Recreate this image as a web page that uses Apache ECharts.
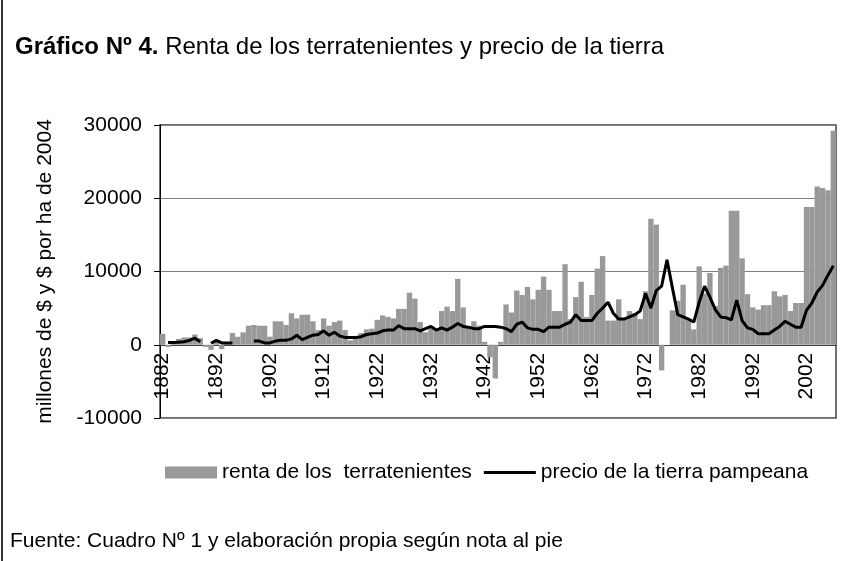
<!DOCTYPE html>
<html>
<head>
<meta charset="utf-8">
<script src="https://cdn.jsdelivr.net/npm/echarts@6/dist/echarts.min.js"></script>
<style>
    html, body { margin: 0; padding: 0; background: #fff; }
    #chart { width: 845px; height: 561px; }
</style>
</head>
<body>
<div id="chart"></div>
<script>
// años 1882 - 2007
var years = [];
for (var y = 1882; y <= 2007; y++) {
    years.push(String(y));
}

// renta de los terratenientes (barras)
var renta = [
    1500, -300, 300, 800, 1000, 1000, 1400, 900, -300, -700,          // 1882-1891
    400, -600, 300, 1600, 1100, 1700, 2600, 2700, 2600, 2600,         // 1892-1901
    1100, 3200, 3200, 2700, 4300, 3600, 4100, 4100, 3200, 2000,       // 1902-1911
    3600, 2600, 3100, 3300, 2000, 600, 1000, 1600, 2100, 2200,        // 1912-1921
    3400, 4000, 3800, 3600, 4900, 4900, 7100, 6300, 3100, 1700,       // 1922-1931
    2500, 2200, 4600, 5200, 4600, 9000, 5100, 2300, 3200, 2600,       // 1932-1941
    400, -1700, -4600, 400, 5500, 4400, 7400, 6800, 7900, 6200,       // 1942-1951
    7500, 9300, 7500, 4600, 4600, 11000, 3500, 6500, 8600, 3800,      // 1952-1961
    6800, 10400, 12100, 3300, 3300, 6200, 3500, 4600, 4300, 3500,     // 1962-1971
    7300, 17200, 16400, -3500, 0, 4700, 6000, 8200, 3500, 2100,       // 1972-1981
    10700, 7000, 9800, 5300, 10500, 10800, 18300, 18300, 11800, 6900, // 1982-1991
    5100, 4800, 5400, 5400, 7300, 6600, 6800, 4600, 5700, 5700,       // 1992-2001
    18800, 18800, 21600, 21400, 21100, 29200                          // 2002-2007
];

// precio de la tierra pampeana (línea)
var precio = [
    null, 300, 300, 350, 400, 600, 900, 400, null, 200,               // 1882-1891
    600, 250, 250, 250, null, null, null, 500, 500, 250,              // 1892-1901
    250, 500, 600, 600, 800, 1300, 700, 1000, 1300, 1400,             // 1902-1911
    1900, 1300, 1700, 1200, 1000, 1000, 1000, 1100, 1400, 1500,       // 1912-1921
    1600, 1900, 2000, 2000, 2600, 2200, 2200, 2200, 1900, 2200,       // 1922-1931
    2500, 2000, 2300, 2000, 2400, 2900, 2500, 2400, 2200, 2200,       // 1932-1941
    2500, 2500, 2500, 2400, 2200, 1800, 2800, 3100, 2300, 2100,       // 1942-1951
    2100, 1800, 2400, 2400, 2400, 2800, 3100, 4100, 3300, 3300,       // 1952-1961
    3300, 4300, 5000, 5800, 4300, 3500, 3500, 3800, 4100, 4600,       // 1962-1971
    7000, 5000, 7400, 8000, 11600, 7800, 4100, 3800, 3500, 3100,      // 1972-1981
    5800, 8000, 6500, 4800, 3800, 3700, 3400, 6100, 3300, 2300,       // 1982-1991
    2100, 1500, 1500, 1500, 2000, 2500, 3200, 2800, 2400, 2400,       // 1992-2001
    4700, 5700, 7200, 8100, 9500, 10800                               // 2002-2007
];

var yTicks = [-10000, 0, 10000, 20000, 30000];

var FONT = "'Liberation Sans', Arial, sans-serif";

// área del gráfico
var gridTop = 125, gridHeight = 293;
var yMin = yTicks[0], yMax = yTicks[yTicks.length - 1];
// el eje de categorías va sobre el cero
var zeroOffset = -gridHeight * (0 - yMin) / (yMax - yMin);

var chart = echarts.init(document.getElementById('chart'));

var opt = {
    backgroundColor: '#fff',
    animation: false,
    textStyle: { fontFamily: FONT },
    title: {
        left: 10,
        top: 30,
        text: '{b|Gráfico Nº 4.} Renta de los terratenientes y precio de la tierra',
        textStyle: {
            fontFamily: FONT,
            fontSize: 24,
            fontWeight: 'normal',
            color: '#000',
            rich: {
                b: { fontFamily: FONT, fontSize: 24, fontWeight: 'bold', color: '#000' }
            }
        }
    },
    legend: {
        left: 160,
        top: 457,
        itemWidth: 52,
        itemHeight: 12,
        itemGap: 12,
        textStyle: { fontFamily: FONT, fontSize: 21, color: '#000' },
        data: [
            { name: 'renta de los  terratenientes', icon: 'rect' },
            { name: 'precio de la tierra pampeana', icon: 'path://M0 0H100V6H0Z' }
        ]
    },
    grid: {
        left: 160,
        top: gridTop,
        width: 676,
        height: gridHeight,
        show: true,
        borderColor: '#404040',
        borderWidth: 1.5
    },
    xAxis: {
        type: 'category',
        data: years,
        boundaryGap: true,
        offset: zeroOffset,
        axisLine: { onZero: false, lineStyle: { color: '#404040', width: 1 } },
        axisTick: { interval: 4, length: 5, lineStyle: { color: '#404040' } },
        axisLabel: {
            interval: 9,
            rotate: 90,
            margin: 8,
            fontFamily: FONT,
            fontSize: 21,
            color: '#000'
        },
        splitLine: { show: false }
    },
    yAxis: {
        type: 'value',
        min: yMin,
        max: yMax,
        interval: 10000,
        name: 'millones de $ y $ por ha de 2004',
        nameLocation: 'middle',
        nameRotate: 90,
        nameGap: 104,
        nameTextStyle: { fontFamily: FONT, fontSize: 21, color: '#000' },
        axisLine: { show: true, lineStyle: { color: '#000', width: 1 } },
        axisTick: { show: true, length: 6, lineStyle: { color: '#000' } },
        axisLabel: {
            margin: 18,
            fontFamily: FONT,
            fontSize: 21,
            color: '#000',
            formatter: function (v) { return String(v); }
        },
        splitLine: { show: true, lineStyle: { color: '#808080', width: 1 } }
    },
    series: [
        {
            name: 'renta de los  terratenientes',
            type: 'bar',
            data: renta,
            barCategoryGap: '0%',
            itemStyle: { color: '#999999' }
        },
        {
            name: 'precio de la tierra pampeana',
            type: 'line',
            data: precio,
            symbol: 'none',
            connectNulls: false,
            lineStyle: { color: '#000', width: 3 },
            itemStyle: { color: '#000' },
            z: 3
        }
    ],
    graphic: [
        {
            type: 'line',
            shape: { x1: 2, y1: 0, x2: 2, y2: 561 },
            style: { stroke: '#333', lineWidth: 2 }
        },
        {
            type: 'text',
            left: 10,
            top: 531,
            style: {
                text: 'Fuente: Cuadro Nº 1 y elaboración propia según nota al pie',
                font: '21px ' + FONT,
                fill: '#000'
            }
        }
    ]
};

chart.setOption(opt, true);
</script>
</body>
</html>
